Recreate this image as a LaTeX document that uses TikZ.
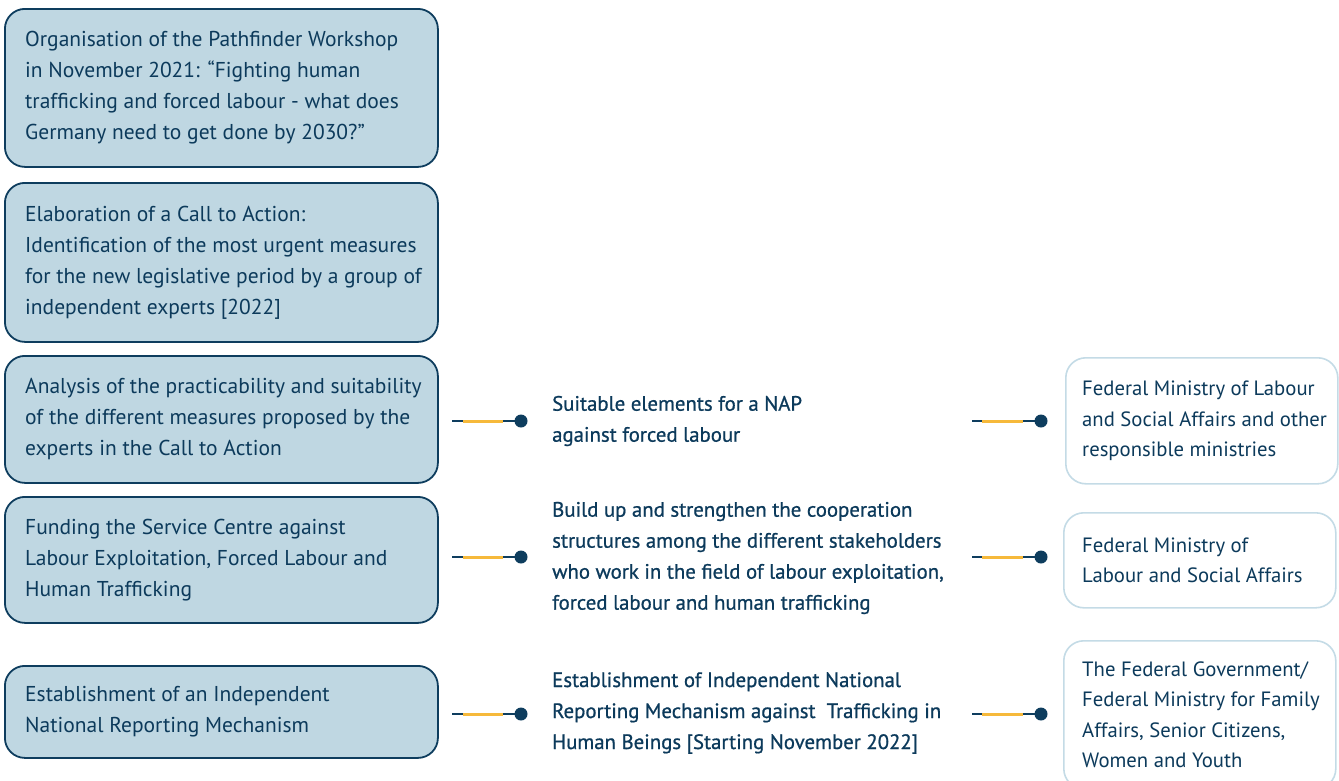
\documentclass[tikz,border=0pt]{standalone}
\usepackage{fontspec}
\setmainfont{PT Sans}
\newfontfamily\medfont{PT Sans}[FakeBold=0.8]
\usetikzlibrary{calc}
\definecolor{navy}{HTML}{0E3D5E}
\definecolor{ink}{HTML}{0C3A5B}
\definecolor{paleblue}{HTML}{BFD7E2}
\definecolor{edgeblue}{HTML}{C4DBE6}
\definecolor{amber}{HTML}{F6B93B}
\tikzset{
  lbox/.style={draw=navy, line width=1.8pt, fill=paleblue, rounded corners=20pt,
    anchor=north west, minimum width=433pt, inner sep=0pt},
  rbox/.style={draw=edgeblue, line width=1.6pt, fill=white, rounded corners=20pt,
    anchor=north west, minimum width=272pt, inner sep=0pt},
  btext/.style={anchor=west, align=left, inner sep=0pt, text=ink,
    font=\fontsize{21.5}{31}\selectfont},
  mtext/.style={btext, font=\medfont\fontsize{20.8}{31}\selectfont},
  rtext/.style={btext, font=\fontsize{20.7}{30.5}\selectfont},
  stem/.style={draw=navy, line width=1.5pt},
  glow/.style={draw=amber, line width=3pt},
  knob/.style={circle, fill=navy, inner sep=0pt, minimum size=13pt}
}
\begin{document}
\begin{tikzpicture}[x=1pt,y=-1pt]
\useasboundingbox (0,0) rectangle (1339,780);

% left column: activities
\node[lbox, minimum height=158pt] (l1) at (4,8) {};
\node[lbox, minimum height=159pt] (l2) at (4,182) {};
\node[lbox, minimum height=127pt] (l3) at (4,355) {};
\node[lbox, minimum height=126pt] (l4) at (4,496) {};
\node[lbox, minimum height=92pt] (l5) at (4,665) {};

\node[btext] (t1) at ($(l1.west)+(21,0)$) {Organisation of the Pathfinder Workshop\\in November 2021: “Fighting human\\trafficking and forced labour - what does\\Germany need to get done by 2030?”};
\node[btext] (t2) at ($(l2.west)+(21,0)$) {Elaboration of a Call to Action:\\Identification of the most urgent measures\\for the new legislative period by a group of\\independent experts [2022]};
\node[btext] (t3) at ($(l3.west)+(21,0)$) {Analysis of the practicability and suitability\\of the different measures proposed by the\\experts in the Call to Action};
\node[btext] (t4) at ($(l4.west)+(21,0)$) {Funding the Service Centre against\\Labour Exploitation, Forced Labour and\\Human Trafficking};
\node[btext] (t5) at ($(l5.west)+(21,0)$) {Establishment of an Independent\\National Reporting Mechanism};

% right column: responsible bodies
\node[rbox, minimum height=126pt] (r3) at (1065,357) {};
\node[rbox, minimum height=95pt] (r4) at (1063,512) {};
\node[rbox, minimum height=148pt] (r5) at (1063,640) {};

\node[rtext] (s3) at ($(r3.west)+(17,0)$) {Federal Ministry of Labour\\and Social Affairs and other\\responsible ministries};
\node[rtext] (s4) at ($(r4.west)+(19,0)$) {Federal Ministry of\\Labour and Social Affairs};
\node[rtext] (s5) at ($(r5.west)+(19,0)$) {The Federal Government/\\Federal Ministry for Family\\Affairs, Senior Citizens,\\Women and Youth};

% middle column: results
\node[mtext] (m3) at (552,421) {Suitable elements for a NAP\\against forced labour};
\node[mtext] (m4) at (552,558) {Build up and strengthen the cooperation\\structures among the different stakeholders\\who work in the field of labour exploitation,\\forced labour and human trafficking};
\node[mtext] (m5) at (552,713) {Establishment of Independent National\\Reporting Mechanism against~ Trafficking in\\Human Beings [Starting November 2022]};

% connectors: left box -> result
\foreach \i/\y in {3/421,4/557,5/714}{
  \coordinate (la\i) at (452,\y);
  \node[knob] (lk\i) at (521,\y) {};
  \draw[stem] (la\i) -- (lk\i.center);
  \draw[glow] ($(la\i)+(11,0)$) -- ($(la\i)+(51,0)$);
}
% connectors: result -> responsible body
\foreach \i/\y in {3/421,4/557,5/714}{
  \coordinate (ra\i) at (972,\y);
  \node[knob] (rk\i) at (1041,\y) {};
  \draw[stem] (ra\i) -- (rk\i.center);
  \draw[glow] ($(ra\i)+(10,0)$) -- ($(ra\i)+(51,0)$);
}
\end{tikzpicture}
\end{document}
